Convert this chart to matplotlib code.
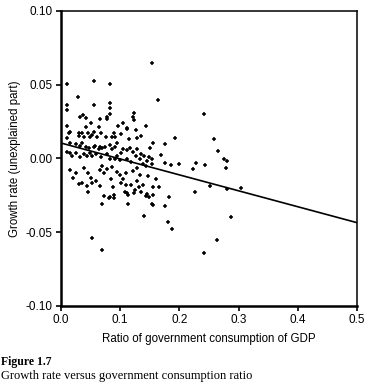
import numpy as np
import matplotlib.pyplot as plt

# scatter points (ratio, growth rate residual)
ratio = [0.011, 0.055, 0.082, 0.153, 0.028, 0.164, 0.011, 0.011, 0.056, 0.083,
         0.083, 0.032, 0.037, 0.042, 0.050, 0.042, 0.066, 0.064, 0.077, 0.078,
         0.083, 0.097, 0.105, 0.112, 0.121, 0.123, 0.124, 0.143, 0.011, 0.0135,
         0.011, 0.016, 0.030, 0.035, 0.031, 0.039, 0.045, 0.049, 0.053, 0.056,
         0.061, 0.068, 0.076, 0.086, 0.090, 0.092, 0.102, 0.111, 0.115, 0.127,
         0.129, 0.136, 0.150, 0.155, 0.176, 0.192, 0.015, 0.026, 0.032, 0.035,
         0.043, 0.047, 0.055, 0.058, 0.066, 0.064, 0.069, 0.075, 0.083, 0.087,
         0.091, 0.095, 0.104, 0.101, 0.111, 0.117, 0.122, 0.129, 0.135, 0.140,
         0.149, 0.154, 0.169, 0.176, 0.186, 0.199, 0.011, 0.015, 0.018, 0.026,
         0.032, 0.039, 0.044, 0.049, 0.052, 0.060, 0.067, 0.077, 0.083, 0.091,
         0.095, 0.100, 0.111, 0.118, 0.126, 0.133, 0.139, 0.145, 0.153, 0.015,
         0.026, 0.039, 0.045, 0.066, 0.069, 0.073, 0.078, 0.086, 0.094, 0.100,
         0.110, 0.122, 0.129, 0.133, 0.143, 0.030, 0.036, 0.044, 0.046, 0.052,
         0.066, 0.073, 0.069, 0.088, 0.090, 0.083, 0.081, 0.089, 0.101, 0.110,
         0.109, 0.111, 0.114, 0.114, 0.118, 0.125, 0.124, 0.132, 0.138, 0.136,
         0.143, 0.146, 0.148, 0.154, 0.156, 0.155, 0.156, 0.166, 0.175, 0.182,
         0.140, 0.181, 0.188, 0.052, 0.069, 0.242, 0.259, 0.265, 0.276, 0.280,
         0.278, 0.228, 0.223, 0.243, 0.226, 0.252, 0.280, 0.304, 0.288, 0.263,
         0.242, 0.020, 0.050, 0.060, 0.085, 0.105, 0.128, 0.147, 0.160]
growth = [0.0505, 0.0523, 0.0505, 0.065, 0.042, 0.0394, 0.036, 0.0327, 0.036, 0.0376,
          0.034, 0.0279, 0.0295, 0.0272, 0.0243, 0.0216, 0.0268, 0.0216, 0.0266, 0.0284,
          0.0304, 0.022, 0.0243, 0.0205, 0.0279, 0.0261, 0.0306, 0.022, 0.022, 0.0171,
          0.0137, 0.0182, 0.0171, 0.0175, 0.0155, 0.0148, 0.0171, 0.0148, 0.016, 0.0182,
          0.0148, 0.0171, 0.0146, 0.0144, 0.0171, 0.0148, 0.0166, 0.0198, 0.013, 0.0193,
          0.0139, 0.0153, 0.0069, 0.0103, 0.0098, 0.0139, 0.0103, 0.0096, 0.0087, 0.0107,
          0.008, 0.0069, 0.008, 0.0087, 0.008, 0.0064, 0.0069, 0.008, 0.0089, 0.0062,
          0.008, 0.0103, 0.0064, 0.0035, 0.006, 0.0073, 0.0044, 0.0062, 0.0031, 0.0017,
          0.0012, -0.0001, 0.0024, -0.0033, -0.0046, -0.0037, 0.0046, 0.0035, 0.0017, 0.0035,
          0.0012, 0.0031, 0.0017, 0.004, 0.0017, 0.0031, 0.0012, 0.0028, -0.0003, -0.0001,
          0.0017, -0.001, -0.0006, -0.0026, 0.0017, -0.0006, -0.004, -0.0019, -0.0037, -0.0078,
          -0.0101, -0.0067, -0.0101, -0.0078, -0.0049, -0.0101, -0.0073, -0.0055, -0.0089, -0.0112,
          -0.0101, -0.0082, -0.0067, -0.0112, -0.0049, -0.0175, -0.0164, -0.0187, -0.0225, -0.0168,
          -0.0187, -0.0254, -0.0308, -0.0191, -0.0247, -0.0259, -0.027, -0.027, -0.0168, -0.018,
          -0.0225, -0.0236, -0.0247, -0.0308, -0.018, -0.0214, -0.0232, -0.0196, -0.018, -0.0225,
          -0.0254, -0.0241, -0.0263, -0.0308, -0.0315, -0.0247, -0.0191, -0.0196, -0.0322, -0.0263,
          -0.0388, -0.0433, -0.048, -0.0541, -0.0618, 0.0305, 0.0133, 0.0051, -0.0006, -0.0018,
          -0.0067, -0.0033, -0.0073, -0.0044, -0.0228, -0.0187, -0.0205, -0.0198, -0.0399, -0.055,
          -0.0643, -0.013, -0.013, -0.015, -0.014, -0.014, -0.0152, -0.012, -0.014]

# fitted line
intercept = 0.0105
slope = -0.108
line_x = [0.0, 0.5]

fig = plt.figure(figsize=(3.65, 3.9), dpi=100)
ax = fig.add_axes([0.167, 0.2154, 0.811, 0.7564])

ax.plot(ratio, growth, linestyle='none', marker='+', markersize=2.8,
        markeredgewidth=1.1, color='black')
ax.plot(line_x, [intercept + slope * v for v in line_x], color='black', lw=1.2)

ax.set_xlim(0, 0.5)
ax.set_ylim(-0.10, 0.10)
ax.set_xticks([0.0, 0.1, 0.2, 0.3, 0.4, 0.5])
ax.set_yticks([-0.10, -0.05, 0.00, 0.05, 0.10])
ax.xaxis.set_major_formatter(plt.FormatStrFormatter('%.1f'))
ax.yaxis.set_major_formatter(plt.FormatStrFormatter('%.2f'))

for side in ['left', 'bottom']:
    ax.spines[side].set_linewidth(1.8)
for side in ['top', 'right']:
    ax.spines[side].set_linewidth(1.1)
ax.tick_params(direction='out', length=3.5, width=1.2, labelsize=8.5, pad=2.5)
for lab in ax.get_xticklabels() + ax.get_yticklabels():
    lab.set_family('Liberation Sans')

ax.set_xlabel("Ratio of government consumption of GDP", family='Liberation Sans',
              fontsize=8.3, labelpad=5)
ax.set_ylabel("Growth rate (unexplained part)", family='Liberation Sans',
              fontsize=8.3, labelpad=3)

fig.text(0.003, 1 - 362 / 390, "Figure 1.7", family='Liberation Serif',
         fontweight='bold', fontsize=8.5, va='center')
fig.text(0.003, 1 - 376 / 390, "Growth rate versus government consumption ratio",
         family='Liberation Serif', fontsize=9, va='center')

fig.savefig('out.png', dpi=100)
